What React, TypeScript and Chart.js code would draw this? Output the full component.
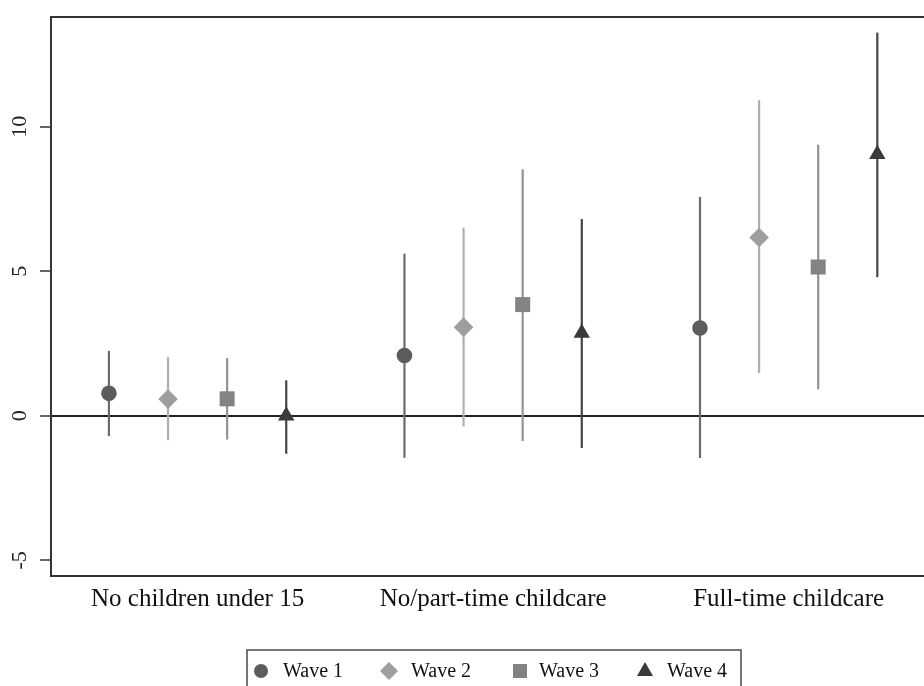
import React, { useEffect, useRef } from 'react';
import { Chart, registerables } from 'chart.js';

Chart.register(...registerables);

const categories = ['No children under 15', 'No/part-time childcare', 'Full-time childcare'];
const waveLabels = ['Wave 1', 'Wave 2', 'Wave 3', 'Wave 4'];

const wave1Est = [0.78, 2.09, 3.04];
const wave1Lo = [-0.7, -1.45, -1.46];
const wave1Hi = [2.25, 5.61, 7.57];

const wave2Est = [0.58, 3.07, 6.17];
const wave2Lo = [-0.84, -0.36, 1.48];
const wave2Hi = [2.04, 6.51, 10.92];

const wave3Est = [0.59, 3.85, 5.15];
const wave3Lo = [-0.82, -0.87, 0.92];
const wave3Hi = [2.0, 8.53, 9.38];

const wave4Est = [0.0, 2.87, 9.05];
const wave4Lo = [-1.31, -1.11, 4.8];
const wave4Hi = [1.23, 6.81, 13.26];

const yTicks = [-5, 0, 5, 10];

const FONT = "'Liberation Serif', 'Times New Roman', serif";

const markerColors = ['#5c5c5c', '#9e9e9e', '#838383', '#3a3a3a'];
const lineColors = ['#6c6c6c', '#afafaf', '#939393', '#464646'];
const pointStyles = ['circle', 'rectRot', 'rect', 'triangle'];
const pointRadii = [7.8, 9.8, 10.6, 9.5];

const errorBarPlugin = {
  id: 'errorBars',
  beforeDatasetsDraw(chart: any) {
    const ctx = chart.ctx;
    const xs = chart.scales.x;
    const ys = chart.scales.y;
    ctx.save();
    chart.data.datasets.forEach((ds: any) => {
      ctx.strokeStyle = ds.errColor;
      ctx.lineWidth = 2.2;
      ds.data.forEach((pt: any, j: number) => {
        const px = xs.getPixelForValue(pt.x);
        ctx.beginPath();
        ctx.moveTo(px, ys.getPixelForValue(ds.errLo[j]));
        ctx.lineTo(px, ys.getPixelForValue(ds.errHi[j]));
        ctx.stroke();
      });
    });
    ctx.restore();
  },
  afterDraw(chart: any) {
    const ctx = chart.ctx;
    const area = chart.chartArea;
    ctx.save();
    // top frame line
    ctx.strokeStyle = '#333';
    ctx.lineWidth = 2;
    ctx.beginPath();
    ctx.moveTo(area.left - 1, area.top);
    ctx.lineTo(area.right, area.top);
    ctx.stroke();

    // legend box
    ctx.strokeStyle = '#4a4a4a';
    ctx.lineWidth = 1.5;
    ctx.strokeRect(247, 650, 494, 50);
    const itemX = [261, 389, 520, 645];
    const textX = [283, 411, 539, 667];
    const cy = 671;
    ctx.font = `20px ${FONT}`;
    ctx.textBaseline = 'middle';
    ctx.textAlign = 'left';
    chart.data.datasets.forEach((ds: any, i: number) => {
      ctx.fillStyle = markerColors[i];
      const x = itemX[i];
      ctx.beginPath();
      if (i === 0) {
        ctx.arc(x, cy, 7, 0, Math.PI * 2);
      } else if (i === 1) {
        ctx.moveTo(x - 9, cy);
        ctx.lineTo(x, cy - 9);
        ctx.lineTo(x + 9, cy);
        ctx.lineTo(x, cy + 9);
        ctx.closePath();
      } else if (i === 2) {
        ctx.rect(x - 7, cy - 7, 14, 14);
      } else {
        ctx.moveTo(x, cy - 9);
        ctx.lineTo(x + 8, cy + 5);
        ctx.lineTo(x - 8, cy + 5);
        ctx.closePath();
      }
      ctx.fill();
      ctx.fillStyle = '#111';
      ctx.fillText(ds.label, textX[i], cy + 1);
    });
    ctx.restore();
  },
};

export default function App() {
  const ref = useRef<HTMLCanvasElement>(null);

  useEffect(() => {
    if (!ref.current) return;
    const ests = [wave1Est, wave2Est, wave3Est, wave4Est];
    const los = [wave1Lo, wave2Lo, wave3Lo, wave4Lo];
    const his = [wave1Hi, wave2Hi, wave3Hi, wave4Hi];

    const datasets = waveLabels.map((label, w) => ({
      label,
      data: categories.map((_, g) => ({ x: g * 5 + w, y: ests[w][g] })),
      errLo: los[w],
      errHi: his[w],
      errColor: lineColors[w],
      pointStyle: pointStyles[w],
      pointRadius: pointRadii[w],
      pointHoverRadius: pointRadii[w],
      backgroundColor: markerColors[w],
      borderColor: markerColors[w],
      borderWidth: 0,
      showLine: false,
      clip: false,
    }));

    const chart = new Chart(ref.current, {
      type: 'scatter',
      data: { datasets } as any,
      plugins: [errorBarPlugin],
      options: {
        animation: false,
        responsive: false,
        devicePixelRatio: 1,
        layout: { autoPadding: false, padding: { top: 17, right: 0, bottom: 0, left: 0 } },
        plugins: {
          legend: { display: false },
          tooltip: { enabled: false },
        },
        scales: {
          x: {
            type: 'linear',
            min: -0.98,
            max: 13.79,
            afterBuildTicks: (s: any) => {
              s.ticks = categories.map((_, g) => ({ value: g * 5 + 1.5 }));
            },
            afterFit: (s: any) => {
              s.height = 110;
              s.paddingLeft = 0;
              s.paddingRight = 0;
            },
            ticks: {
              autoSkip: false,
              maxRotation: 0,
              minRotation: 0,
              padding: 8,
              color: '#111',
              font: { family: FONT, size: 25 },
              callback: (v: any) => categories[Math.round((Number(v) - 1.5) / 5)] ?? '',
            },
            grid: { drawOnChartArea: false, drawTicks: false },
            border: { display: true, color: '#333', width: 2 },
          },
          y: {
            type: 'linear',
            min: -5.54,
            max: 13.8,
            afterBuildTicks: (s: any) => {
              s.ticks = yTicks.map((v) => ({ value: v }));
            },
            afterFit: (s: any) => {
              s.width = 51;
              s.paddingTop = 0;
              s.paddingBottom = 0;
            },
            ticks: {
              minRotation: 90,
              maxRotation: 90,
              crossAlign: 'center',
              padding: 9,
              color: '#222',
              font: { family: FONT, size: 22 },
              callback: (v: any) => String(v),
            },
            grid: {
              color: (c: any) => (c.tick && c.tick.value === 0 ? '#222' : 'rgba(0,0,0,0)'),
              lineWidth: 2,
              tickColor: '#666',
              tickLength: 11,
              tickWidth: 2,
            },
            border: { display: true, color: '#333', width: 2 },
          },
        },
      } as any,
    });
    return () => chart.destroy();
  }, []);

  return (
    <div style={{ position: 'fixed', left: 0, top: 0, width: 924, height: 686, background: '#fff' }}>
      <canvas ref={ref} width={924} height={686} style={{ width: 924, height: 686, display: 'block' }} />
    </div>
  );
}
